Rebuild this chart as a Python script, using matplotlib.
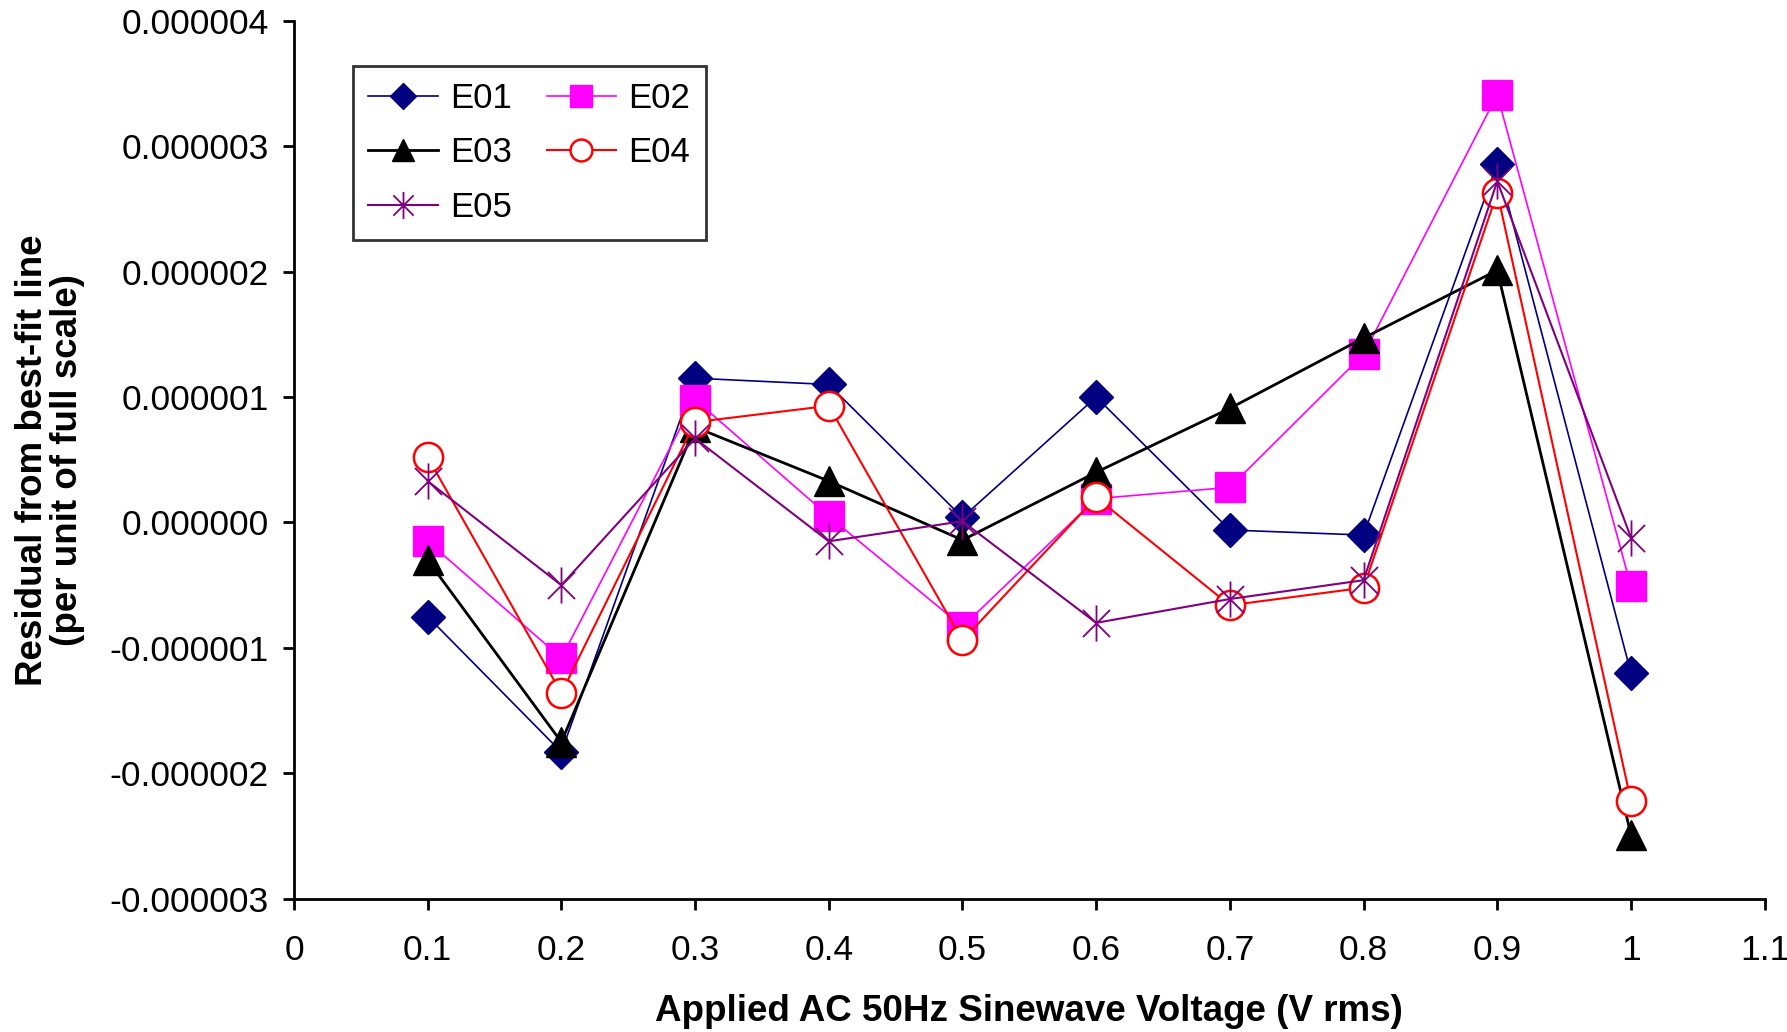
import matplotlib
matplotlib.use("Agg")
import matplotlib.pyplot as plt
from matplotlib.path import Path
from matplotlib.ticker import FuncFormatter, MultipleLocator

plt.rcParams['font.family'] = ['Liberation Sans', 'DejaVu Sans']

voltage = [0.1, 0.2, 0.3, 0.4, 0.5, 0.6, 0.7, 0.8, 0.9, 1.0]
# residuals in units of 1e-6
e01 = [-0.75, -1.83, 1.15, 1.10, 0.04, 1.00, -0.06, -0.10, 2.86, -1.20]
e02 = [-0.15, -1.08, 0.98, 0.05, -0.83, 0.19, 0.28, 1.34, 3.41, -0.51]
e03 = [-0.30, -1.75, 0.76, 0.33, -0.14, 0.40, 0.91, 1.47, 2.01, -2.49]
e04 = [0.52, -1.36, 0.80, 0.93, -0.94, 0.20, -0.66, -0.52, 2.63, -2.22]
e05 = [0.33, -0.50, 0.67, -0.15, 0.01, -0.80, -0.61, -0.46, 2.72, -0.12]
names = ["E01", "E02", "E03", "E04", "E05"]
scale = 1e-6

# asterisk marker: vertical line plus an X
star = Path([(0, -1), (0, 1), (-0.75, -0.75), (0.75, 0.75), (-0.75, 0.75), (0.75, -0.75)],
            [Path.MOVETO, Path.LINETO, Path.MOVETO, Path.LINETO, Path.MOVETO, Path.LINETO])

fig = plt.figure(figsize=(17.87, 10.32), dpi=100)
ax = fig.add_axes([0.1645, 0.129, 0.823, 0.851])

styles = [
    dict(color='#000080', marker='D', markersize=17, lw=1.2, mfc='#000080', mec='#000080'),
    dict(color='#FF00FF', marker='s', markersize=21, lw=1.2, mfc='#FF00FF', mec='#FF00FF'),
    dict(color='black', marker='^', markersize=22, lw=2.0, mfc='black', mec='black'),
    dict(color='#FF0000', marker='o', markersize=21, lw=1.5, mfc='white', mec='#FF0000', mew=1.8),
    dict(color='#800080', marker=star, markersize=26, lw=1.5, mec='#800080', mew=1.3),
]
series = [e01, e02, e03, e04, e05]
handles = []
for nm, s, st in zip(names, series, styles):
    h, = ax.plot(voltage, [v * scale for v in s], label=nm, **st)
    handles.append(h)

ax.set_xlim(0, 1.1)
ax.set_ylim(-3e-6, 4e-6)
ax.xaxis.set_major_locator(MultipleLocator(0.1))
ax.yaxis.set_major_locator(MultipleLocator(1e-6))
ax.xaxis.set_major_formatter(FuncFormatter(lambda v, p: f"{round(v, 1):g}"))
ax.yaxis.set_major_formatter(FuncFormatter(lambda v, p: f"{v:.6f}" if abs(v) > 1e-12 else "0.000000"))

for sp in ['top', 'right']:
    ax.spines[sp].set_visible(False)
for sp in ['left', 'bottom']:
    ax.spines[sp].set_linewidth(2)
ax.tick_params(axis='both', direction='out', length=8, width=2, labelsize=25.5, colors='black')
ax.tick_params(axis='x', pad=17)
ax.tick_params(axis='y', pad=10)

ax.set_xlabel("Applied AC 50Hz Sinewave Voltage (V rms)", fontsize=26.5, fontweight='bold', labelpad=20)
ax.set_ylabel("Residual from best-fit line\n(per unit of full scale)", fontsize=26.5,
              fontweight='bold', labelpad=18, linespacing=1.0)

order = [0, 2, 4, 1, 3]
leg = ax.legend([handles[i] for i in order], [names[i] for i in order], ncol=2,
                loc='upper left', bbox_to_anchor=(0.040, 0.948), borderaxespad=0,
                fontsize=25, frameon=True, fancybox=False, edgecolor='black', borderpad=0.45,
                handlelength=2.0, columnspacing=1.0, handletextpad=0.35, labelspacing=0.62,
                markerscale=0.75)
leg.get_frame().set_linewidth(2)

fig.savefig("out.png", dpi=100, facecolor='white')
